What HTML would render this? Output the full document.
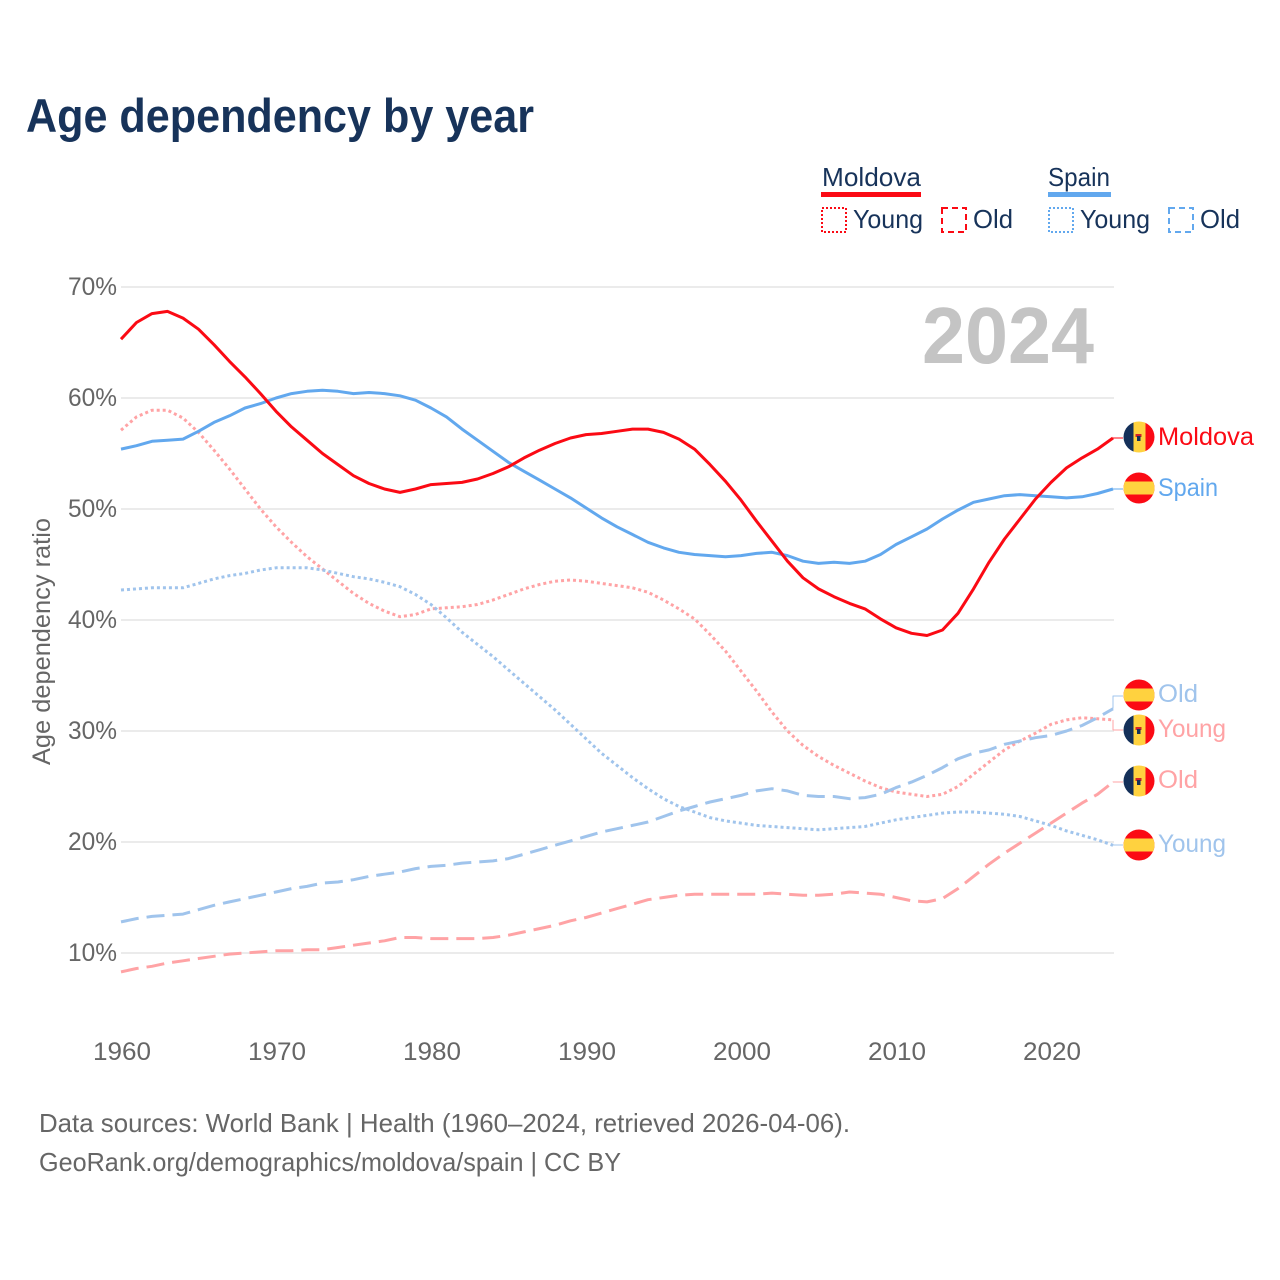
<!DOCTYPE html>
<html lang="en">
<head>
<meta charset="utf-8">
<title>Age dependency by year</title>
<style>
html,body{margin:0;padding:0;background:#fff;}
svg{display:block;font-family:"Liberation Sans",sans-serif;}
</style>
</head>
<body>
<svg id="chart" width="1280" height="1280" viewBox="0 0 1280 1280" xmlns="http://www.w3.org/2000/svg">
  <defs>
    <clipPath id="flag-clip"><circle cx="0" cy="0" r="15.5"/></clipPath>
  </defs>
  <rect width="1280" height="1280" fill="#fff"/>
  <text x="26" y="132" font-size="47" font-weight="700" fill="#17335a" textLength="508" lengthAdjust="spacingAndGlyphs">Age dependency by year</text>

  <g font-size="26" fill="#17335a">
    <text x="822" y="186" textLength="99" lengthAdjust="spacingAndGlyphs">Moldova</text>
    <rect x="821" y="192" width="100" height="5" fill="#fb0a14"/>
    <rect x="822" y="208" width="24" height="24" fill="none" stroke="#fb0a14" stroke-width="2" stroke-dasharray="2 2"/>
    <text x="853" y="228" textLength="70" lengthAdjust="spacingAndGlyphs">Young</text>
    <rect x="942" y="208" width="24" height="24" fill="none" stroke="#fb0a14" stroke-width="2" stroke-dasharray="6 4"/>
    <text x="973" y="228" textLength="40" lengthAdjust="spacingAndGlyphs">Old</text>
    <text x="1048" y="186" textLength="62" lengthAdjust="spacingAndGlyphs">Spain</text>
    <rect x="1048" y="192" width="63" height="5" fill="#62a8ee"/>
    <rect x="1049" y="208" width="24" height="24" fill="none" stroke="#62a8ee" stroke-width="2" stroke-dasharray="2 2"/>
    <text x="1080" y="228" textLength="70" lengthAdjust="spacingAndGlyphs">Young</text>
    <rect x="1169" y="208" width="24" height="24" fill="none" stroke="#62a8ee" stroke-width="2" stroke-dasharray="6 4"/>
    <text x="1200" y="228" textLength="40" lengthAdjust="spacingAndGlyphs">Old</text>
  </g>

  <g id="grid"></g>
  <g id="y-ticks" font-size="25" fill="#666"></g>
  <g id="x-ticks" font-size="25" fill="#666"></g>
  <text transform="translate(50,641.5) rotate(-90)" text-anchor="middle" font-size="25" fill="#666" textLength="247" lengthAdjust="spacingAndGlyphs">Age dependency ratio</text>
  <text x="1094" y="363" text-anchor="end" font-size="80" font-weight="700" fill="#c4c4c4" textLength="172" lengthAdjust="spacingAndGlyphs">2024</text>

  <g id="series" fill="none" stroke-linejoin="round"></g>

  <g transform="translate(1139,437)">
    <g clip-path="url(#flag-clip)"><rect x="-16" y="-16" width="10.5" height="32" fill="#143059"/><rect x="-5.5" y="-16" width="12" height="32" fill="#ffd23f"/><rect x="6.5" y="-16" width="9.5" height="32" fill="#fb0a14"/><rect x="-3.5" y="-3" width="6" height="3" fill="#d2232a"/><rect x="-2" y="-1" width="3.5" height="5" fill="#143059"/></g>
  </g>
  <g transform="translate(1139,488)">
    <g clip-path="url(#flag-clip)"><rect x="-16" y="-16" width="32" height="32" fill="#fb0a14"/><rect x="-16" y="-6.5" width="32" height="13" fill="#ffd23f"/></g>
  </g>
  <g transform="translate(1139,695)">
    <g clip-path="url(#flag-clip)"><rect x="-16" y="-16" width="32" height="32" fill="#fb0a14"/><rect x="-16" y="-6.5" width="32" height="13" fill="#ffd23f"/></g>
  </g>
  <g transform="translate(1139,730)">
    <g clip-path="url(#flag-clip)"><rect x="-16" y="-16" width="10.5" height="32" fill="#143059"/><rect x="-5.5" y="-16" width="12" height="32" fill="#ffd23f"/><rect x="6.5" y="-16" width="9.5" height="32" fill="#fb0a14"/><rect x="-3.5" y="-3" width="6" height="3" fill="#d2232a"/><rect x="-2" y="-1" width="3.5" height="5" fill="#143059"/></g>
  </g>
  <g transform="translate(1139,781)">
    <g clip-path="url(#flag-clip)"><rect x="-16" y="-16" width="10.5" height="32" fill="#143059"/><rect x="-5.5" y="-16" width="12" height="32" fill="#ffd23f"/><rect x="6.5" y="-16" width="9.5" height="32" fill="#fb0a14"/><rect x="-3.5" y="-3" width="6" height="3" fill="#d2232a"/><rect x="-2" y="-1" width="3.5" height="5" fill="#143059"/></g>
  </g>
  <g transform="translate(1139,845)">
    <g clip-path="url(#flag-clip)"><rect x="-16" y="-16" width="32" height="32" fill="#fb0a14"/><rect x="-16" y="-6.5" width="32" height="13" fill="#ffd23f"/></g>
  </g>

  <g font-size="25">
    <text x="1158" y="445" fill="#fb0a14" textLength="96" lengthAdjust="spacingAndGlyphs">Moldova</text>
    <text x="1158" y="496" fill="#62a8ee" textLength="60" lengthAdjust="spacingAndGlyphs">Spain</text>
    <text x="1158" y="702" fill="#a0c4ec" textLength="40" lengthAdjust="spacingAndGlyphs">Old</text>
    <text x="1158" y="737" fill="#ffa3a5" textLength="68" lengthAdjust="spacingAndGlyphs">Young</text>
    <text x="1158" y="788" fill="#ffa3a5" textLength="40" lengthAdjust="spacingAndGlyphs">Old</text>
    <text x="1158" y="852" fill="#a0c4ec" textLength="68" lengthAdjust="spacingAndGlyphs">Young</text>
  </g>

  <g font-size="26" fill="#666">
    <text x="39" y="1132" textLength="811" lengthAdjust="spacingAndGlyphs">Data sources: World Bank | Health (1960–2024, retrieved 2026-04-06).</text>
    <text x="39" y="1171" textLength="582" lengthAdjust="spacingAndGlyphs">GeoRank.org/demographics/moldova/spain | CC BY</text>
  </g>
</svg>

<script>
const startYear = 1960;
const yTickValues = [10, 20, 30, 40, 50, 60, 70];
const xTickValues = [1960, 1970, 1980, 1990, 2000, 2010, 2020];

const moldovaTotal = [
  65.3, 66.8, 67.6, 67.8, 67.2, 66.2, 64.8, 63.3, 61.9, 60.4,
  58.8, 57.4, 56.2, 55.0, 54.0, 53.0, 52.3, 51.8, 51.5, 51.8,
  52.2, 52.3, 52.4, 52.7, 53.2, 53.8, 54.6, 55.3, 55.9, 56.4,
  56.7, 56.8, 57.0, 57.2, 57.2, 56.9, 56.3, 55.4, 54.0, 52.5,
  50.8, 48.9, 47.1, 45.3, 43.8, 42.8, 42.1, 41.5, 41.0, 40.1,
  39.3, 38.8, 38.6, 39.1, 40.6, 42.8, 45.2, 47.3, 49.1, 50.9,
  52.4, 53.7, 54.6, 55.4, 56.4
];
const spainTotal = [
  55.4, 55.7, 56.1, 56.2, 56.3, 57.0, 57.8, 58.4, 59.1, 59.5,
  60.0, 60.4, 60.6, 60.7, 60.6, 60.4, 60.5, 60.4, 60.2, 59.8,
  59.1, 58.3, 57.2, 56.2, 55.2, 54.2, 53.4, 52.6, 51.8, 51.0,
  50.1, 49.2, 48.4, 47.7, 47.0, 46.5, 46.1, 45.9, 45.8, 45.7,
  45.8, 46.0, 46.1, 45.8, 45.3, 45.1, 45.2, 45.1, 45.3, 45.9,
  46.8, 47.5, 48.2, 49.1, 49.9, 50.6, 50.9, 51.2, 51.3, 51.2,
  51.1, 51.0, 51.1, 51.4, 51.8
];
const moldovaYoung = [
  57.1, 58.3, 58.9, 58.9, 58.2, 56.9, 55.3, 53.6, 51.8, 50.0,
  48.4, 47.0, 45.7, 44.6, 43.5, 42.4, 41.5, 40.8, 40.3, 40.5,
  41.0, 41.1, 41.2, 41.4, 41.8, 42.3, 42.8, 43.2, 43.5, 43.6,
  43.5, 43.3, 43.1, 42.9, 42.5, 41.8, 41.0, 40.1, 38.7, 37.2,
  35.4, 33.6, 31.7, 30.0, 28.7, 27.7, 26.9, 26.2, 25.5, 24.9,
  24.5, 24.3, 24.1, 24.3, 25.0, 26.1, 27.2, 28.3, 29.1, 29.8,
  30.6, 31.0, 31.2, 31.1, 31.0
];
const moldovaOld = [
  8.3, 8.6, 8.8, 9.1, 9.3, 9.5, 9.7, 9.9, 10.0, 10.1,
  10.2, 10.2, 10.3, 10.3, 10.5, 10.7, 10.9, 11.1, 11.4, 11.4,
  11.3, 11.3, 11.3, 11.3, 11.4, 11.6, 11.9, 12.2, 12.5, 12.9,
  13.2, 13.6, 14.0, 14.4, 14.8, 15.0, 15.2, 15.3, 15.3, 15.3,
  15.3, 15.3, 15.4, 15.3, 15.2, 15.2, 15.3, 15.5, 15.4, 15.3,
  15.0, 14.7, 14.6, 14.9, 15.8, 16.9, 18.0, 19.0, 19.9, 20.8,
  21.7, 22.6, 23.5, 24.3, 25.4
];
const spainYoung = [
  42.7, 42.8, 42.9, 42.9, 42.9, 43.3, 43.7, 44.0, 44.2, 44.5,
  44.7, 44.7, 44.7, 44.5, 44.2, 43.9, 43.7, 43.4, 43.0, 42.3,
  41.4, 40.2, 38.9, 37.8, 36.7, 35.5, 34.3, 33.1, 31.9, 30.6,
  29.3, 28.0, 26.9, 25.8, 24.8, 23.9, 23.2, 22.7, 22.2, 21.9,
  21.7, 21.5, 21.4, 21.3, 21.2, 21.1, 21.2, 21.3, 21.4, 21.7,
  22.0, 22.2, 22.4, 22.6, 22.7, 22.7, 22.6, 22.5, 22.3, 21.9,
  21.5, 21.0, 20.6, 20.2, 19.7
];
const spainOld = [
  12.8, 13.1, 13.3, 13.4, 13.5, 13.9, 14.3, 14.6, 14.9, 15.2,
  15.5, 15.8, 16.0, 16.3, 16.4, 16.6, 16.9, 17.1, 17.3, 17.6,
  17.8, 17.9, 18.1, 18.2, 18.3, 18.5, 18.9, 19.3, 19.7, 20.1,
  20.5, 20.9, 21.2, 21.5, 21.8, 22.3, 22.8, 23.2, 23.6, 23.9,
  24.2, 24.6, 24.8, 24.6, 24.2, 24.1, 24.1, 23.9, 24.0, 24.3,
  24.9, 25.4, 26.0, 26.7, 27.5, 28.0, 28.3, 28.8, 29.1, 29.4,
  29.6, 30.0, 30.5, 31.2, 32.0
];

const SVG_NS = 'http://www.w3.org/2000/svg';
const xScale = function (year) { return 121 + (year - startYear) * 15.5; };
const yScale = function (pct) { return 953 - (pct - 10) * 11.1; };
const lineFor = function (values) {
  return values.map(function (v, i) {
    return (i ? 'L' : 'M') + xScale(startYear + i).toFixed(1) + ' ' + yScale(v).toFixed(1);
  }).join(' ');
};

const grid = document.getElementById('grid');
const yTicks = document.getElementById('y-ticks');
yTickValues.forEach(function (v) {
  const line = document.createElementNS(SVG_NS, 'line');
  
  
  line.setAttribute('x1', xScale(1960));
  line.setAttribute('x2', xScale(2024) + 1);
  line.setAttribute('y1', yScale(v));
  line.setAttribute('y2', yScale(v));
  line.setAttribute('stroke', '#ebebeb');
  line.setAttribute('stroke-width', '2');
  grid.appendChild(line);
  const label = document.createElementNS(SVG_NS, 'text');
  
  
  label.setAttribute('x', 117);
  label.setAttribute('y', yScale(v) + 8);
  label.setAttribute('text-anchor', 'end');
  label.setAttribute('textLength', '49');
  label.setAttribute('lengthAdjust', 'spacingAndGlyphs');
  label.textContent = v + '%';
  yTicks.appendChild(label);
});

const xTicks = document.getElementById('x-ticks');
xTickValues.forEach(function (v) {
  const label = document.createElementNS(SVG_NS, 'text');
  
  
  label.setAttribute('x', xScale(v) + 1);
  label.setAttribute('y', 1060);
  label.setAttribute('text-anchor', 'middle');
  label.setAttribute('textLength', '58');
  label.setAttribute('lengthAdjust', 'spacingAndGlyphs');
  label.textContent = String(v);
  xTicks.appendChild(label);
});

const series = document.getElementById('series');

const moldovaYoungLine = document.createElementNS(SVG_NS, 'path');


moldovaYoungLine.setAttribute('d', lineFor(moldovaYoung));
moldovaYoungLine.setAttribute('stroke', '#ffa3a5');
moldovaYoungLine.setAttribute('stroke-width', '3');
moldovaYoungLine.setAttribute('stroke-dasharray', '3 3');
series.appendChild(moldovaYoungLine);

const spainYoungLine = document.createElementNS(SVG_NS, 'path');


spainYoungLine.setAttribute('d', lineFor(spainYoung));
spainYoungLine.setAttribute('stroke', '#a0c4ec');
spainYoungLine.setAttribute('stroke-width', '3');
spainYoungLine.setAttribute('stroke-dasharray', '3 3');
series.appendChild(spainYoungLine);

const moldovaOldLine = document.createElementNS(SVG_NS, 'path');


moldovaOldLine.setAttribute('d', lineFor(moldovaOld));
moldovaOldLine.setAttribute('stroke', '#ffa3a5');
moldovaOldLine.setAttribute('stroke-width', '3');
moldovaOldLine.setAttribute('stroke-dasharray', '18 8');
series.appendChild(moldovaOldLine);

const spainOldLine = document.createElementNS(SVG_NS, 'path');


spainOldLine.setAttribute('d', lineFor(spainOld));
spainOldLine.setAttribute('stroke', '#a0c4ec');
spainOldLine.setAttribute('stroke-width', '3');
spainOldLine.setAttribute('stroke-dasharray', '18 8');
series.appendChild(spainOldLine);

const spainTotalLine = document.createElementNS(SVG_NS, 'path');


spainTotalLine.setAttribute('d', lineFor(spainTotal));
spainTotalLine.setAttribute('stroke', '#62a8ee');
spainTotalLine.setAttribute('stroke-width', '3');
series.appendChild(spainTotalLine);

const moldovaTotalLine = document.createElementNS(SVG_NS, 'path');


moldovaTotalLine.setAttribute('d', lineFor(moldovaTotal));
moldovaTotalLine.setAttribute('stroke', '#fb0a14');
moldovaTotalLine.setAttribute('stroke-width', '3');
series.appendChild(moldovaTotalLine);

const connectorColor = ['#fb0a14', '#62a8ee', '#a0c4ec', '#ffa3a5', '#ffa3a5', '#a0c4ec'];
const connectorValue = [moldovaTotal, spainTotal, spainOld, moldovaYoung, moldovaOld, spainYoung];
const connectorTargetY = [438, 489, 696, 730, 782, 845];
connectorValue.forEach(function (values, i) {
  const endY = yScale(values[values.length - 1]);
  const connector = document.createElementNS(SVG_NS, 'path');
  
  
  connector.setAttribute('d', 'M1113 ' + endY.toFixed(1) + ' L1113 ' + connectorTargetY[i] + ' L1123 ' + connectorTargetY[i]);
  connector.setAttribute('stroke', connectorColor[i]);
  connector.setAttribute('stroke-width', '1');
  series.appendChild(connector);
});
</script>
</body>
</html>
